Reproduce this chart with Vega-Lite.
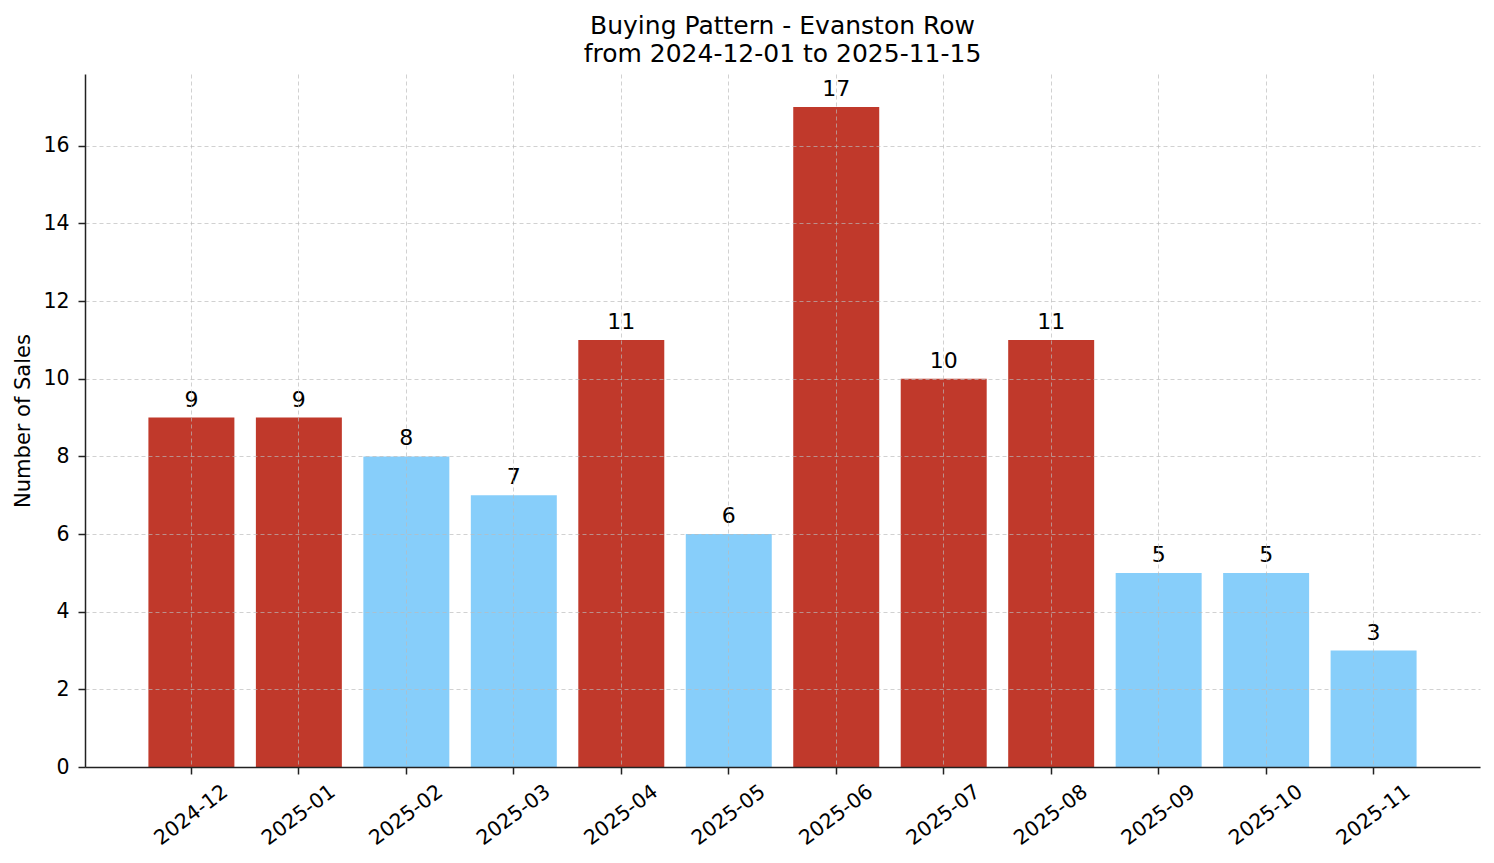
{
  "$schema": "https://vega.github.io/schema/vega-lite/v6.json",
  "autosize": "none",
  "width": 1395,
  "height": 693,
  "padding": {"left": 85, "top": 74, "right": 14, "bottom": 96},
  "background": "white",
  "title": {
    "text": ["Buying Pattern - Evanston Row", "from 2024-12-01 to 2025-11-15"],
    "fontSize": 25,
    "fontWeight": "normal",
    "font": "DejaVu Sans",
    "lineHeight": 28,
    "anchor": "middle",
    "offset": 7,
    "color": "black"
  },
  "data": {
    "values": [
      {"month": "2024-12", "sales": 9, "group": "high"},
      {"month": "2025-01", "sales": 9, "group": "high"},
      {"month": "2025-02", "sales": 8, "group": "low"},
      {"month": "2025-03", "sales": 7, "group": "low"},
      {"month": "2025-04", "sales": 11, "group": "high"},
      {"month": "2025-05", "sales": 6, "group": "low"},
      {"month": "2025-06", "sales": 17, "group": "high"},
      {"month": "2025-07", "sales": 10, "group": "high"},
      {"month": "2025-08", "sales": 11, "group": "high"},
      {"month": "2025-09", "sales": 5, "group": "low"},
      {"month": "2025-10", "sales": 5, "group": "low"},
      {"month": "2025-11", "sales": 3, "group": "low"}
    ]
  },
  "encoding": {
    "x": {
      "field": "month",
      "type": "ordinal",
      "scale": {"paddingInner": 0.2, "paddingOuter": 0.59},
      "axis": {
        "title": null,
        "labelAngle": -37,
        "labelAlign": "center",
        "labelBaseline": "middle",
        "labelPadding": 41,
        "zindex": 1
      }
    },
    "y": {
      "field": "sales",
      "type": "quantitative",
      "scale": {"domain": [0, 17.85], "nice": false},
      "axis": {
        "title": "Number of Sales",
        "values": [0, 2, 4, 6, 8, 10, 12, 14, 16],
        "labelPadding": 9,
        "titlePadding": 9,
        "zindex": 1
      }
    }
  },
  "layer": [
    {
      "mark": {"type": "bar"},
      "encoding": {
        "color": {
          "field": "group",
          "type": "nominal",
          "scale": {"domain": ["high", "low"], "range": ["#c0392b", "#87cefa"]},
          "legend": null
        }
      }
    },
    {
      "mark": {"type": "text", "baseline": "alphabetic", "dy": -11, "fontSize": 22, "font": "DejaVu Sans", "color": "black"},
      "encoding": {"text": {"field": "sales", "type": "quantitative"}}
    }
  ],
  "config": {
    "font": "DejaVu Sans",
    "view": {"stroke": null},
    "axis": {
      "domainColor": "#222222",
      "domainWidth": 1.5,
      "tickColor": "#222222",
      "tickSize": 7,
      "tickWidth": 1.5,
      "labelFont": "DejaVu Sans",
      "labelFontSize": 20.5,
      "labelColor": "black",
      "titleFont": "DejaVu Sans",
      "titleFontSize": 21,
      "titleFontWeight": "normal",
      "titleColor": "black",
      "grid": true,
      "gridColor": "#bbbbbb",
      "gridOpacity": 0.75,
      "gridDash": [4, 3],
      "gridWidth": 0.9
    }
  }
}
